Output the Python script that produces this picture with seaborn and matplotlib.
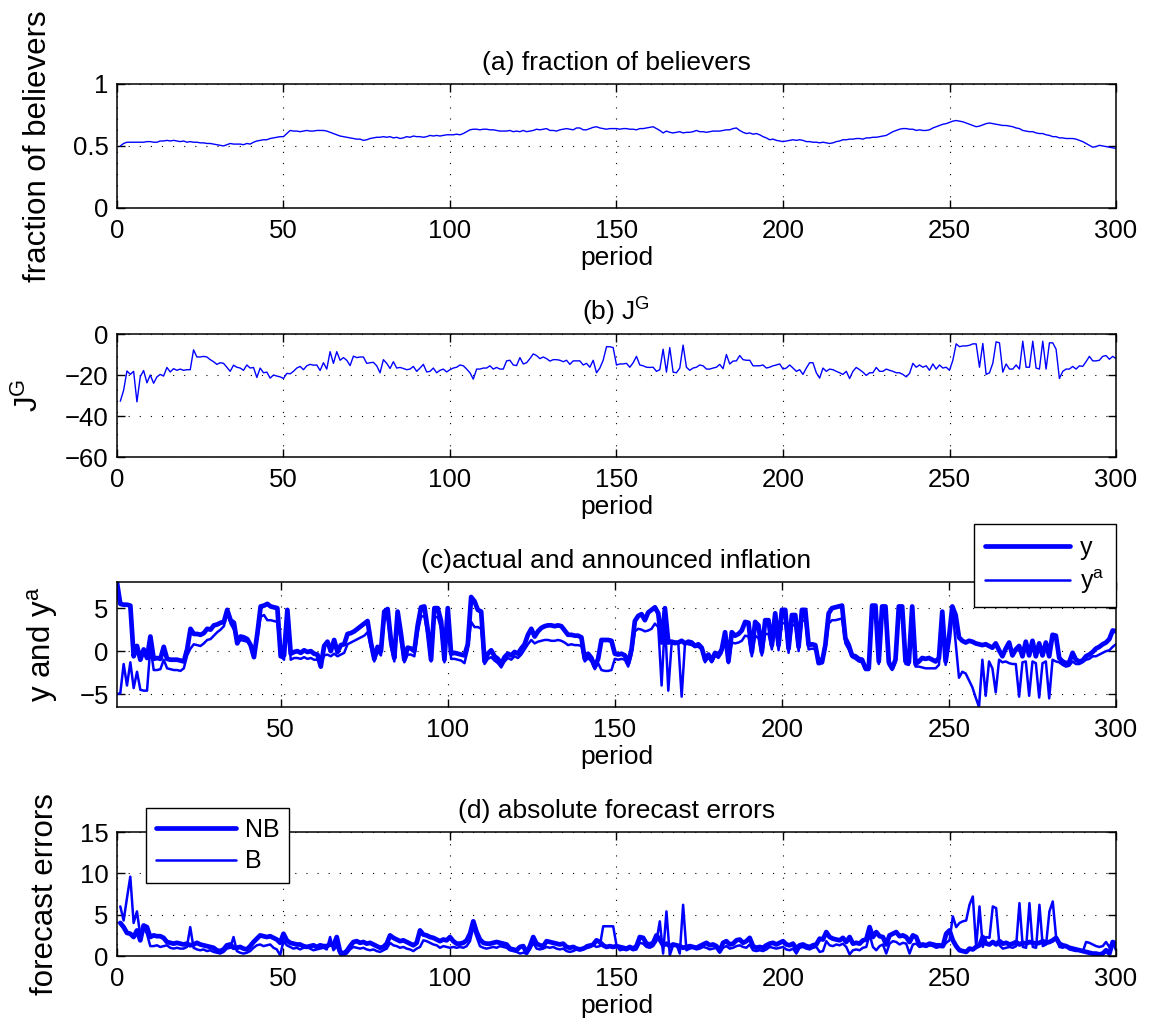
import numpy as np
import matplotlib
matplotlib.use("Agg")
import matplotlib.pyplot as plt
import seaborn as sns

sns.set_style("ticks")
plt.rcParams["font.family"] = ["Liberation Sans", "DejaVu Sans"]
plt.rcParams["mathtext.fontset"] = "custom"
plt.rcParams["mathtext.rm"] = "Liberation Sans"
plt.rcParams["mathtext.it"] = "Liberation Sans"
plt.rcParams["mathtext.default"] = "regular"
plt.rcParams["text.color"] = "black"
plt.rcParams["axes.labelcolor"] = "black"
plt.rcParams["xtick.color"] = "black"
plt.rcParams["ytick.color"] = "black"

# periods 1..300
periods = np.arange(1, 301)

# (a) fraction of believers
believers = [
    0.50, 0.52, 0.53, 0.53, 0.53, 0.53, 0.53, 0.53, 0.535, 0.535,
    0.53, 0.53, 0.54, 0.54, 0.545, 0.54, 0.545, 0.54, 0.535, 0.54,
    0.53, 0.535, 0.53, 0.53, 0.525, 0.525, 0.52, 0.52, 0.515, 0.51,
    0.505, 0.50, 0.51, 0.52, 0.515, 0.515, 0.515, 0.51, 0.52, 0.515,
    0.53, 0.54, 0.545, 0.55, 0.55, 0.56, 0.565, 0.57, 0.575, 0.575,
    0.60, 0.625, 0.62, 0.62, 0.615, 0.62, 0.625, 0.62, 0.62, 0.625,
    0.625, 0.625, 0.62, 0.61, 0.60, 0.59, 0.58, 0.575, 0.57, 0.565,
    0.56, 0.555, 0.555, 0.545, 0.55, 0.56, 0.565, 0.57, 0.57, 0.575,
    0.57, 0.575, 0.565, 0.57, 0.56, 0.565, 0.575, 0.57, 0.58, 0.575,
    0.575, 0.57, 0.575, 0.585, 0.58, 0.585, 0.58, 0.585, 0.59, 0.59,
    0.59, 0.595, 0.59, 0.60, 0.615, 0.63, 0.635, 0.635, 0.63, 0.635,
    0.635, 0.63, 0.63, 0.625, 0.62, 0.62, 0.62, 0.625, 0.615, 0.62,
    0.615, 0.625, 0.615, 0.62, 0.625, 0.635, 0.63, 0.635, 0.64, 0.625,
    0.625, 0.62, 0.63, 0.635, 0.64, 0.635, 0.63, 0.645, 0.645, 0.63,
    0.63, 0.64, 0.65, 0.655, 0.645, 0.64, 0.635, 0.64, 0.64, 0.64,
    0.635, 0.64, 0.64, 0.635, 0.635, 0.63, 0.64, 0.64, 0.645, 0.65,
    0.655, 0.64, 0.625, 0.605, 0.62, 0.61, 0.605, 0.61, 0.615, 0.605,
    0.61, 0.61, 0.615, 0.625, 0.615, 0.615, 0.61, 0.615, 0.62, 0.62,
    0.62, 0.625, 0.63, 0.63, 0.64, 0.645, 0.625, 0.61, 0.60, 0.605,
    0.595, 0.60, 0.59, 0.575, 0.565, 0.55, 0.555, 0.545, 0.54, 0.535,
    0.54, 0.545, 0.55, 0.545, 0.55, 0.545, 0.535, 0.535, 0.53, 0.53,
    0.525, 0.53, 0.525, 0.52, 0.525, 0.535, 0.54, 0.55, 0.55, 0.555,
    0.555, 0.56, 0.56, 0.555, 0.565, 0.565, 0.57, 0.57, 0.575, 0.58,
    0.585, 0.60, 0.615, 0.625, 0.635, 0.64, 0.64, 0.635, 0.635, 0.625,
    0.63, 0.625, 0.625, 0.63, 0.645, 0.655, 0.665, 0.675, 0.68, 0.69,
    0.70, 0.705, 0.70, 0.695, 0.685, 0.675, 0.665, 0.655, 0.66, 0.67,
    0.68, 0.685, 0.68, 0.675, 0.67, 0.665, 0.665, 0.66, 0.655, 0.645,
    0.64, 0.625, 0.62, 0.615, 0.615, 0.605, 0.60, 0.60, 0.59, 0.585,
    0.575, 0.575, 0.565, 0.565, 0.56, 0.56, 0.56, 0.555, 0.545, 0.535,
    0.52, 0.505, 0.49, 0.495, 0.505, 0.50, 0.495, 0.49, 0.485, 0.48,
]

# (b) J^G
jg = [
    -32.8, -27.4, -18.0, -19.7, -18.2, -33.1, -20.8, -17.8, -23.8, -20.0,
    -24.0, -20.9, -19.7, -20.5, -16.3, -18.5, -16.9, -17.7, -17.1, -17.7,
    -17.4, -17.4, -7.7, -11.2, -11.2, -10.9, -11.2, -12.5, -13.5, -14.8,
    -14.0, -14.3, -16.2, -18.2, -15.2, -16.2, -16.6, -17.7, -15.1, -16.6,
    -16.3, -21.2, -16.6, -18.9, -18.6, -21.5, -20.0, -20.5, -20.9, -21.7,
    -19.2, -19.4, -18.2, -16.6, -15.8, -17.4, -15.5, -14.8, -15.2, -15.1,
    -17.8, -14.0, -17.1, -8.6, -14.3, -8.6, -12.8, -11.5, -12.8, -15.4,
    -10.8, -11.5, -11.2, -11.2, -14.3, -14.0, -13.8, -15.5, -18.9, -12.5,
    -14.3, -16.8, -13.5, -16.6, -16.3, -16.8, -17.4, -17.1, -15.8, -18.2,
    -16.6, -14.8, -18.5, -18.2, -16.6, -18.9, -17.7, -17.1, -18.5, -17.4,
    -16.6, -16.2, -15.1, -15.5, -17.1, -18.9, -22.0, -17.1, -17.1, -16.6,
    -16.6, -15.5, -17.1, -16.3, -17.1, -17.1, -13.1, -12.8, -15.1, -15.4,
    -11.5, -14.6, -14.0, -12.0, -9.7, -10.5, -12.0, -11.2, -12.0, -13.2,
    -12.5, -12.5, -12.8, -13.5, -12.8, -14.8, -13.1, -13.1, -13.1, -15.1,
    -14.3, -16.2, -12.8, -18.9, -16.6, -12.8, -6.2, -6.2, -6.6, -15.1,
    -14.6, -14.6, -14.3, -16.2, -14.0, -10.9, -15.1, -15.5, -16.2, -16.3,
    -16.2, -18.2, -17.4, -7.4, -18.6, -6.6, -18.6, -18.9, -16.6, -5.4,
    -16.2, -17.7, -16.6, -16.2, -15.1, -15.5, -17.1, -17.1, -16.6, -16.2,
    -14.8, -16.9, -10.0, -14.6, -13.2, -13.1, -10.5, -12.5, -12.8, -12.8,
    -15.5, -15.5, -15.5, -15.1, -16.6, -16.2, -15.5, -15.1, -14.6, -17.1,
    -16.6, -15.1, -16.6, -18.2, -17.4, -19.7, -16.6, -14.0, -14.0, -18.9,
    -21.5, -16.6, -18.2, -17.1, -17.4, -18.2, -18.9, -19.7, -18.2, -21.7,
    -18.2, -16.3, -17.4, -18.6, -20.2, -18.9, -18.9, -16.3, -18.2, -18.2,
    -17.1, -17.7, -18.2, -18.9, -18.9, -19.7, -20.9, -19.2, -14.3, -16.2,
    -15.1, -16.2, -15.5, -17.7, -14.6, -17.1, -15.1, -16.6, -16.2, -17.7,
    -12.8, -4.8, -6.2, -5.8, -5.8, -5.5, -4.8, -4.8, -16.2, -4.6,
    -19.7, -18.9, -14.3, -3.8, -4.3, -18.6, -14.6, -17.1, -17.1, -15.1,
    -17.1, -3.5, -16.2, -16.2, -3.5, -16.6, -17.1, -3.5, -17.1, -4.3,
    -4.3, -7.4, -21.7, -18.2, -17.1, -17.1, -15.8, -17.1, -15.5, -15.8,
    -13.5, -10.9, -13.1, -13.1, -12.8, -10.9, -10.5, -12.3, -10.9, -12.0,
]

# (c) actual inflation y and announced inflation y^a
infl_y = [
    8.0, 5.5, 5.4, 5.4, 5.3, -0.6, 0.6, -1.0, 0.2, -0.8,
    1.7, -0.9, -0.8, -0.9, 0.5, -0.9, -1.0, -1.0, -1.0, -1.1,
    -1.2, 0.2, 2.6, 2.0, 2.0, 1.9, 2.1, 2.6, 2.5, 3.0,
    3.1, 3.3, 3.4, 4.8, 3.6, 3.3, 0.9, 1.7, 1.6, 1.4,
    0.7, -0.7, 2.0, 5.2, 5.3, 5.5, 5.2, 5.1, 5.0, -0.6,
    -0.5, 4.8, -0.3, -0.1, 0.0, -0.2, 0.1, -0.1, 0.0, -0.3,
    -0.4, -1.8, 0.6, 1.1, 0.0, 1.3, -0.1, 0.7, 0.8, 2.0,
    2.1, 2.3, 2.6, 2.9, 3.2, 3.5, 1.0, -0.9, 0.5, 0.0,
    4.6, 4.9, 1.2, -0.8, 4.6, 2.0, -1.0, 0.4, 0.3, 0.0,
    3.0, 5.1, 5.2, 2.5, -1.0, 5.0, 5.0, 3.5, -1.0, 5.0,
    -0.3, -0.2, -0.3, -0.4, -0.5, 0.8, 6.3, 5.8, 4.8, 4.6,
    -1.2, -0.3, 0.1, -0.6, -0.9, -1.5, -0.7, -0.3, -0.5, -0.1,
    -0.3, 0.3, 0.8, 1.9, 2.6, 1.7, 2.3, 2.7, 2.9, 3.0,
    3.0, 2.9, 3.0, 2.9, 2.4, 1.9, 1.9, 1.8, 1.8, 1.6,
    -0.9, -0.3, -0.8, -1.8, -0.9, 1.3, 1.3, 1.3, 1.2, -0.3,
    -0.4, -0.3, -0.5, -1.4, 0.2, 3.5, 4.1, 4.3, 3.6, 4.5,
    4.8, 5.1, 4.4, 1.0, 5.0, 1.0, 1.1, 1.0, 1.0, 1.2,
    0.9, 1.1, 1.0, 0.6, 0.8, 0.4, -1.0, -0.4, -1.1, -0.2,
    -0.5, 0.2, 2.2, -1.2, 2.2, 1.8, 2.0, 2.4, 3.4, 3.3,
    -0.1, 3.4, 3.0, -0.1, 3.6, 3.6, 0.7, 4.4, 0.7, 4.8,
    4.8, 0.3, 4.2, 4.2, 0.5, 4.8, 4.8, 0.7, 0.8, 0.7,
    -1.4, -1.3, 0.7, 4.4, 5.0, 5.1, 5.2, 5.3, 1.5, 0.7,
    -0.5, -0.6, -0.9, -1.0, -2.0, -2.0, 5.3, 5.3, -1.2, 5.2,
    5.2, -1.3, -2.0, -1.0, 5.2, 5.2, -1.2, -1.3, 5.2, -1.5,
    -1.2, -0.8, -0.9, -0.8, -1.0, -1.2, -0.8, 4.6, -1.2, 1.5,
    5.2, 4.2, 1.6, 1.2, 1.0, 1.2, 1.1, 0.9, 0.8, 0.7,
    0.8, 0.6, 0.4, 0.9, 0.1, -0.6, 0.3, 1.0, -0.5, 0.2,
    0.6, -0.6, 1.1, -0.5, 1.2, -0.6, 0.9, -0.5, 1.0, -0.6,
    1.9, 1.8, -0.8, -1.2, -1.4, -1.3, -0.2, -1.0, -1.2, -1.1,
    -0.6, -0.4, -0.1, 0.3, 0.5, 0.8, 1.0, 1.4, 2.4, 2.3,
]

infl_ya = [
    -5.0, -4.9, -1.5, -4.0, -1.3, -4.3, -2.4, -4.5, -4.6, -4.6,
    0.5, -2.2, -2.2, -2.1, -1.0, -2.0, -2.1, -2.2, -2.2, -2.3,
    -2.0, -0.5, 0.3, 0.8, 0.7, 0.6, 0.9, 1.3, 1.4, 1.8,
    2.2, 2.5, 2.9, 4.5, 3.2, 2.5, 1.0, 1.3, 1.2, 1.1,
    0.6, -0.5, 1.5, 4.0, 4.2, 3.6, 3.6, 3.5, 3.4, -0.6,
    -1.0, 4.4, -1.0, -0.8, -0.8, -0.9, -0.7, -0.9, -0.8, -1.0,
    -1.0, -1.5, -0.5, -0.4, -0.6, -0.3, -0.6, -0.4, -0.2, 0.8,
    1.0, 1.2, 1.4, 1.6, 1.8, 2.2, 0.5, -1.2, 0.0, -0.5,
    3.6, 3.9, 0.5, -1.2, 3.8, 1.0, -1.3, -0.4, -0.4, -0.6,
    2.2, 4.0, 4.1, 1.8, -1.2, 3.9, 4.0, 2.6, -1.3, 4.0,
    -0.9, -0.9, -1.0, -1.1, -1.4, 0.2, 3.4, 2.8, 2.8, 2.6,
    -1.5, -0.9, -0.7, -1.1, -1.4, -1.9, -1.2, -0.8, -1.0, -0.6,
    -0.8, -0.4, 0.2, 0.8, 1.3, 0.9, 1.1, 1.2, 1.3, 1.3,
    1.2, 1.2, 1.3, 1.2, 1.0, 0.7, 0.8, 0.7, 0.7, 0.6,
    -1.2, -0.8, -1.2, -2.1, -1.4, -2.2, -2.3, -2.3, -2.2, -0.9,
    -1.0, -0.9, -1.0, -1.8, -0.4, 2.3, 2.6, 2.5, 2.3, 2.4,
    2.6, 3.2, 2.8, -4.0, 3.5, -4.6, 0.9, 0.8, 0.9, -5.3,
    0.9, 0.8, 0.7, 0.5, 0.5, 0.2, -1.3, -0.7, -1.3, -0.5,
    -0.8, -0.2, 1.5, -1.4, 1.0, 0.9, 1.0, 1.2, 1.8, 1.7,
    -0.6, 1.8, 1.5, -0.5, 2.0, 2.0, 0.2, 3.0, 0.1, 3.2,
    3.3, -0.2, 3.0, 3.0, 0.0, 3.5, 3.6, 0.2, 0.3, 0.2,
    -0.9, -0.9, 0.2, 3.2, 3.6, 3.6, 3.7, 3.8, 0.9, 0.2,
    -0.7, -0.9, -1.2, -1.3, -2.2, -2.2, 4.3, 4.4, -1.5, 4.3,
    4.3, -1.6, -2.2, -1.3, 4.4, 4.3, -1.5, -1.6, 4.2, -1.8,
    -1.8, -1.9, -2.0, -2.0, -2.0, -2.0, -1.6, 3.2, -1.6, 1.0,
    5.1, 1.0, -3.1, -2.4, -2.6, -3.4, -4.2, -5.4, -6.5, -1.0,
    -5.2, -1.2, -2.0, -4.8, -1.0, -1.3, -1.2, -1.4, -1.5, -1.5,
    -5.3, -1.3, -1.2, -5.2, -1.2, -1.4, -5.4, -1.4, -1.2, -5.5,
    -1.0, -1.2, -1.3, -1.6, -1.8, -1.7, -1.2, -1.5, -1.5, -1.3,
    -1.0, -0.9, -0.6, -0.6, -0.4, -0.2, 0.0, 0.1, 0.5, 0.8,
]

# (d) absolute forecast errors, non-believers (NB) and believers (B)
err_nb = [
    4.0, 3.5, 2.8, 2.7, 2.3, 3.1, 1.9, 3.7, 3.5, 2.3,
    2.5, 2.4, 2.4, 2.2, 1.7, 1.6, 1.5, 1.6, 1.5, 1.4,
    1.5, 1.3, 1.4, 1.6, 1.4, 1.3, 1.2, 1.1, 1.0, 0.7,
    0.6, 0.8, 1.3, 1.4, 1.0, 1.0, 1.1, 0.9, 0.8, 1.2,
    1.7, 2.1, 2.5, 2.4, 2.3, 2.4, 2.2, 2.0, 1.6, 2.7,
    1.9, 1.6, 1.5, 1.4, 1.4, 1.2, 1.1, 1.2, 1.3, 1.1,
    1.3, 1.2, 1.2, 1.4, 1.3, 2.3, 0.5, 0.3, 0.6, 1.2,
    1.7, 1.8, 1.6, 1.7, 1.5, 1.6, 1.4, 1.2, 1.0, 1.1,
    1.5, 2.5, 2.2, 2.0, 1.8, 1.9, 1.7, 1.5, 1.3, 1.6,
    3.1, 2.6, 2.5, 2.3, 2.2, 2.0, 1.8, 2.0, 1.9, 2.3,
    1.8, 1.5, 1.5, 1.6, 1.9, 2.7, 4.2, 2.9, 2.0, 1.6,
    1.5, 1.5, 1.6, 1.7, 1.6, 1.5, 1.4, 0.9, 0.8, 0.7,
    1.1, 1.2, 0.4, 1.2, 2.3, 1.5, 1.3, 1.2, 1.8, 1.7,
    1.6, 1.5, 1.4, 1.5, 1.1, 1.0, 1.1, 0.9, 0.8, 0.9,
    1.1, 1.2, 1.4, 1.9, 1.7, 1.3, 1.1, 1.2, 1.1, 1.2,
    1.1, 1.0, 0.9, 1.1, 0.9, 1.2, 2.3, 2.2, 1.5, 1.4,
    1.6, 2.5, 2.0, 1.3, 1.5, 1.2, 1.4, 1.3, 1.2, 1.0,
    1.1, 1.2, 1.1, 1.0, 1.2, 1.4, 1.6, 1.3, 1.4, 1.2,
    0.6, 1.6, 1.8, 1.4, 1.5, 1.9, 2.0, 1.6, 1.8, 2.2,
    1.2, 1.0, 1.1, 1.0, 1.3, 1.5, 1.6, 1.4, 1.6, 1.8,
    1.4, 1.3, 1.5, 0.9, 1.3, 1.4, 1.2, 1.1, 1.3, 1.4,
    2.1, 2.0, 2.9, 2.3, 2.1, 2.0, 1.9, 2.2, 1.7, 2.3,
    1.5, 1.6, 1.5, 1.9, 2.0, 3.5, 2.3, 2.9, 2.4, 2.3,
    1.4, 2.5, 2.7, 2.9, 2.4, 2.5, 2.3, 1.7, 2.5, 2.3,
    1.3, 1.4, 1.3, 1.5, 1.4, 1.3, 1.3, 1.2, 2.7, 3.1,
    1.9, 1.2, 0.7, 0.6, 0.5, 0.9, 0.8, 1.1, 1.3, 2.3,
    1.5, 1.4, 1.7, 1.4, 1.8, 1.5, 1.6, 1.4, 1.5, 1.7,
    1.4, 1.6, 1.5, 1.7, 1.6, 1.5, 1.6, 1.8, 1.6, 1.7,
    1.9, 2.2, 1.5, 1.3, 1.2, 1.0, 0.9, 0.8, 0.7, 0.6,
    0.5, 0.4, 0.3, 0.3, 0.2, 0.3, 0.7, 0.3, 1.7, 1.5,
]

err_b = [
    6.0, 4.3, 7.0, 9.6, 4.0, 5.4, 2.5, 3.4, 2.7, 1.2,
    1.2, 1.3, 1.1, 1.2, 1.3, 1.0, 0.9, 1.0, 0.9, 0.9,
    1.1, 3.5, 1.0, 0.8, 0.7, 0.8, 0.6, 0.7, 0.5, 0.4,
    0.3, 0.5, 0.9, 1.0, 2.3, 0.6, 0.4, 0.3, 0.4, 0.6,
    1.0, 1.3, 1.4, 1.2, 1.3, 1.4, 1.0, 0.8, 0.1, 1.8,
    1.3, 1.1, 0.9, 1.0, 0.8, 1.0, 1.1, 0.9, 0.7, 0.8,
    0.9, 1.0, 0.8, 2.3, 0.7, 1.2, 0.2, 0.1, 0.3, 0.8,
    1.1, 1.0, 0.9, 1.0, 0.8, 0.7, 0.8, 0.6, 0.5, 0.7,
    0.9, 1.6, 1.3, 1.2, 1.0, 1.1, 0.9, 0.8, 0.6, 0.9,
    1.1, 1.9, 1.8, 1.6, 1.4, 1.3, 1.0, 1.2, 1.1, 1.0,
    1.1, 1.0, 1.1, 1.0, 1.2, 1.8, 3.5, 2.3, 1.2, 1.0,
    0.9, 1.0, 1.1, 1.0, 1.2, 1.1, 1.0, 0.7, 0.6, 0.5,
    0.3, 0.4, 0.3, 0.8, 1.6, 0.9, 0.8, 0.9, 1.1, 1.0,
    1.1, 0.9, 0.8, 0.9, 0.6, 0.5, 0.6, 0.8, 0.7, 0.8,
    1.3, 1.4, 1.3, 1.1, 1.2, 3.6, 3.6, 3.6, 3.6, 1.3,
    0.7, 0.8, 0.7, 0.9, 0.7, 0.8, 1.6, 1.5, 1.1, 1.0,
    1.2, 1.8, 4.2, 0.3, 5.4, 0.1, 1.3, 1.4, 0.3, 6.2,
    0.7, 0.9, 1.0, 0.8, 0.9, 1.1, 1.0, 0.8, 0.9, 1.0,
    0.4, 1.0, 1.2, 0.9, 1.0, 1.2, 1.3, 1.1, 1.0, 1.4,
    0.7, 0.6, 0.7, 0.6, 0.8, 1.1, 1.0, 0.9, 1.0, 1.1,
    0.8, 0.7, 0.9, 0.3, 1.0, 1.1, 0.9, 0.8, 1.0, 1.1,
    0.5, 0.6, 1.8, 1.3, 1.2, 1.4, 1.3, 1.5, 1.1, 0.2,
    0.7, 0.8, 0.7, 1.0, 1.1, 2.6, 1.1, 0.7, 1.2, 1.4,
    0.3, 1.5, 1.8, 1.7, 1.4, 1.6, 1.5, 0.3, 1.4, 1.5,
    1.1, 1.2, 1.1, 1.3, 1.2, 1.0, 1.1, 1.1, 1.6, 1.9,
    4.8, 3.5, 4.0, 4.2, 4.3, 6.2, 7.2, 1.1, 6.0, 1.1,
    2.3, 2.2, 6.0, 5.8, 1.3, 0.9, 1.0, 1.1, 1.0, 1.2,
    6.4, 1.1, 1.0, 6.4, 1.1, 1.0, 6.2, 1.2, 1.4, 5.4,
    6.6, 2.3, 1.1, 1.0, 1.2, 0.8, 0.7, 0.6, 0.7, 0.5,
    1.7, 1.6, 1.4, 1.2, 1.1, 1.2, 1.7, 1.1, 1.7, 0.7,
]

for s in (believers, jg, infl_y, infl_ya, err_nb, err_b):
    assert len(s) == 300, len(s)

BLUE = (0, 0, 1)
TICK_FS = 18.5
TEXT_FS = 19
YLAB_FS = 22.5


def dress(ax, title, ylabel, xlim, ylim, xticks, yticks):
    ax.set_xlim(*xlim)
    ax.set_ylim(*ylim)
    ax.set_xticks(xticks)
    ax.set_yticks(yticks)
    ax.grid(True, color="black", linestyle=(0, (1, 9)), linewidth=0.8)
    ax.tick_params(direction="in", top=True, right=True, length=6, width=1,
                   labelsize=TICK_FS, colors="black")
    ax.tick_params(axis="x", pad=8)
    ax.tick_params(axis="y", pad=6)
    for sp in ax.spines.values():
        sp.set_visible(True)
        sp.set_color("black")
        sp.set_linewidth(1.1)
    ax.set_title(title, fontsize=TEXT_FS, pad=10, color="black")
    ax.set_xlabel("period", fontsize=TEXT_FS, labelpad=2, color="black")
    ax.set_ylabel(ylabel, fontsize=YLAB_FS, labelpad=14, color="black")


fig = plt.figure(figsize=(11.49, 10.30), dpi=100)
left, width = 0.1018, 0.8695
ax_a = fig.add_axes([left, 0.7981, width, 0.1204])
ax_b = fig.add_axes([left, 0.5563, width, 0.1194])
ax_c = fig.add_axes([left, 0.3136, width, 0.1214])
ax_d = fig.add_axes([left, 0.0718, width, 0.1204])

# (a)
sns.lineplot(x=periods, y=believers, ax=ax_a, color=BLUE, linewidth=1.0)
dress(ax_a, "(a) fraction of believers", "fraction of believers",
      (0, 300), (0, 1), range(0, 301, 50), [0, 0.5, 1])
ax_a.set_yticklabels(["0", "0.5", "1"])

# (b)
sns.lineplot(x=periods, y=jg, ax=ax_b, color=BLUE, linewidth=1.0)
dress(ax_b, "(b) J$^G$", "J$^G$", (0, 300), (-60, 0),
      range(0, 301, 50), [-60, -40, -20, 0])

# (c)
sns.lineplot(x=periods, y=infl_y, ax=ax_c, color=BLUE, linewidth=3.4, label="y")
sns.lineplot(x=periods, y=infl_ya, ax=ax_c, color=BLUE, linewidth=1.8, label="y$^a$")
dress(ax_c, "(c)actual and announced inflation", "y and y$^a$", (1, 300), (-6.5, 8.05),
      range(50, 301, 50), [-5, 0, 5])
leg_c = ax_c.legend(loc="lower right", bbox_to_anchor=(1.0, 0.8), fontsize=18,
                    frameon=True, fancybox=False, framealpha=1, edgecolor="black",
                    handlelength=3.4, handletextpad=0.4, borderpad=0.45,
                    labelspacing=0.3, borderaxespad=0)
leg_c.get_frame().set_linewidth(1.0)

# (d)
sns.lineplot(x=periods, y=err_nb, ax=ax_d, color=BLUE, linewidth=3.4, label="NB")
sns.lineplot(x=periods, y=err_b, ax=ax_d, color=BLUE, linewidth=1.8, label="B")
dress(ax_d, "(d) absolute forecast errors", "forecast errors", (0, 300), (0, 15),
      range(0, 301, 50), [0, 5, 10, 15])
leg_d = ax_d.legend(loc="upper left", bbox_to_anchor=(0.029, 1.194), fontsize=18,
                    frameon=True, fancybox=False, framealpha=1, edgecolor="black",
                    handlelength=3.2, handletextpad=0.35, borderpad=0.4,
                    labelspacing=0.3, borderaxespad=0)
leg_d.get_frame().set_linewidth(1.0)

fig.savefig("out.png", dpi=100, facecolor="white")
